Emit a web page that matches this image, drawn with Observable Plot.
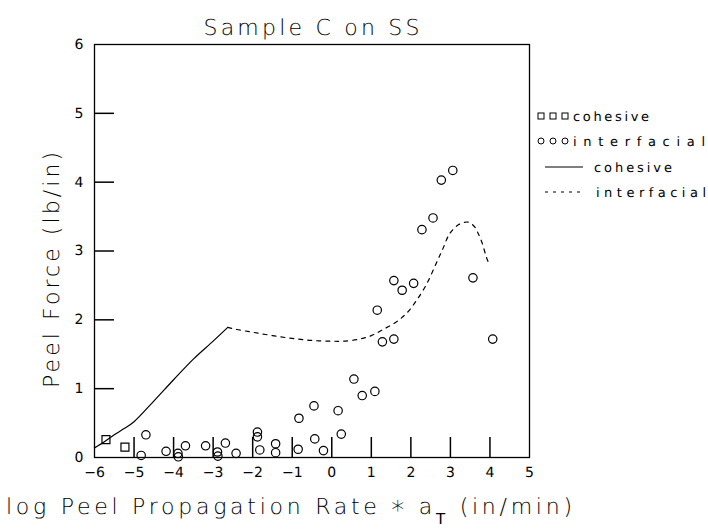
<!DOCTYPE html>
<html>
<head>
<meta charset="utf-8">
<script src="https://cdn.jsdelivr.net/npm/d3@7"></script>
<script src="https://cdn.jsdelivr.net/npm/@observablehq/plot@0.6"></script>
<style>
  html, body { margin: 0; padding: 0; background: #fff; }
  #wrap { position: relative; width: 708px; height: 532px; }
  #wrap svg { position: absolute; left: 0; top: 0; }
  #wrap text { text-rendering: geometricPrecision; }
</style>
</head>
<body>
<div id="wrap"></div>
<script>
// ---- data ----
const cohesiveX = [-5.71, -5.23];
const cohesiveY = [0.26, 0.15];

const interfacialX = [-4.82, -4.70, -4.19, -3.89, -3.88, -3.70, -3.19, -2.89, -2.88, -2.69, -2.42,
  -1.88, -1.88, -1.82, -1.42, -1.42, -0.85, -0.83, -0.45, -0.43, -0.21, 0.16, 0.24, 0.56, 0.77,
  1.09, 1.15, 1.28, 1.57, 1.57, 1.78, 2.07, 2.28, 2.56, 2.77, 3.06, 3.57, 4.07];
const interfacialY = [0.03, 0.33, 0.09, 0.06, 0.01, 0.17, 0.17, 0.08, 0.02, 0.21, 0.06,
  0.37, 0.30, 0.11, 0.20, 0.07, 0.12, 0.57, 0.75, 0.27, 0.10, 0.68, 0.34, 1.14, 0.90,
  0.96, 2.14, 1.68, 1.72, 2.57, 2.43, 2.53, 3.31, 3.48, 4.03, 4.17, 2.61, 1.72];

const cohesiveLineX = [-6, -5.75, -5.5, -5.25, -5, -4.5, -4, -3.5, -3, -2.63];
const cohesiveLineY = [0.14, 0.23, 0.33, 0.42, 0.52, 0.82, 1.13, 1.43, 1.69, 1.89];

const interfacialLineX = [-2.63, -2.4, -2, -1.5, -1, -0.5, 0, 0.3, 0.7, 1.0, 1.3, 1.63, 1.9, 2.14,
  2.4, 2.64, 2.8, 2.98, 3.2, 3.44, 3.6, 3.69, 3.8, 3.91, 3.97];
const interfacialLineY = [1.89, 1.86, 1.82, 1.77, 1.73, 1.70, 1.69, 1.69, 1.72, 1.77, 1.86, 1.97, 2.10, 2.28,
  2.52, 2.82, 3.02, 3.25, 3.38, 3.42, 3.36, 3.27, 3.12, 2.91, 2.82];

const xTickLabels = [-6, -5, -4, -3, -2, -1, 0, 1, 2, 3, 4, 5];
const xInnerTicks = [-5, -4, -3, -2, -1, 0, 1, 2, 3, 4];
const yTickLabels = [0, 1, 2, 3, 4, 5, 6];
const yInnerTicks = [1, 2, 3, 4, 5];

const titleText = "Sample C on SS";
const yLabel = "Peel Force (lb/in)";
const legendItems = ["cohesive", "interfacial", "cohesive", "interfacial"];

// ---- tables ----
const cohesivePts = cohesiveX.map((x, i) => ({x, y: cohesiveY[i]}));
const interfacialPts = interfacialX.map((x, i) => ({x, y: interfacialY[i]}));
const cohesiveLine = cohesiveLineX.map((x, i) => ({x, y: cohesiveLineY[i]}));
const interfacialLine = interfacialLineX.map((x, i) => ({x, y: interfacialLineY[i]}));

const W = 708, H = 532;
const mL = 94, mR = W - 529, mT = 44, mB = H - 457;
const frameW = W - mL - mR, frameH = H - mT - mB;

const chart = Plot.plot({
  width: W,
  height: H,
  marginLeft: mL,
  marginRight: mR,
  marginTop: mT,
  marginBottom: mB,
  style: {fontFamily: "DejaVu Sans, sans-serif", fontSize: "14px", color: "#000", background: "#fff"},
  x: {domain: [-6, 5], axis: null},
  y: {domain: [0, 6], axis: null},
  marks: [
    Plot.frame({stroke: "#000", strokeWidth: 1.3}),
    Plot.ruleX(xInnerTicks, {x: d => d, insetTop: frameH - 20, stroke: "#000", strokeWidth: 1.5}),
    Plot.ruleY(yInnerTicks, {y: d => d, insetRight: frameW - 20, stroke: "#000", strokeWidth: 1.5}),
    Plot.axisX({ticks: xTickLabels, tickSize: 0, tickPadding: 10,
      tickFormat: d => String(d).replace("-", "\u2212"), fontSize: 14, label: null}),
    Plot.axisY({ticks: yTickLabels, tickSize: 0, tickPadding: 11, tickFormat: d => String(d),
      fontSize: 14, label: null}),
    Plot.line(cohesiveLine, {x: "x", y: "y", stroke: "#000", strokeWidth: 1.2, curve: "catmull-rom"}),
    Plot.line(interfacialLine, {x: "x", y: "y", stroke: "#000", strokeWidth: 1.2, strokeDasharray: "4,5", curve: "catmull-rom"}),
    Plot.dot(cohesivePts, {x: "x", y: "y", symbol: "square", r: 4.5, stroke: "#000", strokeWidth: 1.2, fill: "none"}),
    Plot.dot(interfacialPts, {x: "x", y: "y", symbol: "circle", r: 4.2, stroke: "#000", strokeWidth: 1.2, fill: "none"})
  ]
});
document.getElementById("wrap").appendChild(chart);

// ---- overlay: title, axis labels, legend ----
const ov = d3.select("#wrap").append("svg")
  .attr("width", W).attr("height", H)
  .style("pointer-events", "none")
  .attr("font-family", "DejaVu Sans, sans-serif")
  .attr("fill", "#000");

ov.append("text").attr("x", mL + frameW / 2).attr("y", 35)
  .attr("text-anchor", "middle").attr("font-size", 22).attr("font-weight", 200)
  .attr("textLength", 216).attr("lengthAdjust", "spacing")
  .text(titleText);

ov.append("text").attr("transform", `translate(59, 270) rotate(-90)`)
  .attr("text-anchor", "middle").attr("font-size", 22).attr("font-weight", 200)
  .attr("textLength", 236).attr("lengthAdjust", "spacing")
  .text(yLabel);

const xl = ov.append("text").attr("x", 6).attr("y", 514)
  .attr("font-size", 22).attr("font-weight", 200).attr("fill", "#000")
  .attr("textLength", 566).attr("lengthAdjust", "spacing");
xl.append("tspan").text("log Peel Propagation Rate ");
xl.append("tspan").attr("font-size", 26).attr("dy", 5).text("*");
xl.append("tspan").attr("dy", -5).text(" a");
xl.append("tspan").attr("font-size", 15).attr("font-weight", 400).attr("dy", 10).text("T");
xl.append("tspan").attr("dy", -10).text(" (in/min)");

// legend
const lg = ov.append("g").attr("font-size", 13);
const rowY = [116, 141, 167, 192];
[541, 553, 565].forEach(cx => {
  lg.append("rect").attr("x", cx - 3).attr("y", rowY[0] - 3).attr("width", 6).attr("height", 6)
    .attr("fill", "none").attr("stroke", "#000").attr("stroke-width", 1);
  lg.append("circle").attr("cx", cx).attr("cy", rowY[1]).attr("r", 3)
    .attr("fill", "none").attr("stroke", "#000").attr("stroke-width", 1);
});
lg.append("line").attr("x1", 545).attr("x2", 583).attr("y1", rowY[2]).attr("y2", rowY[2])
  .attr("stroke", "#000").attr("stroke-width", 1.1);
lg.append("line").attr("x1", 545).attr("x2", 585).attr("y1", rowY[3]).attr("y2", rowY[3])
  .attr("stroke", "#000").attr("stroke-width", 1.1).attr("stroke-dasharray", "3,5");
const lx = [573, 573, 594, 596];
const lw = [76, 132, 78, 110];
legendItems.forEach((t, i) => {
  lg.append("text").attr("x", lx[i]).attr("y", rowY[i] + 5)
    .attr("textLength", lw[i]).attr("lengthAdjust", "spacing").text(t);
});
</script>
</body>
</html>
